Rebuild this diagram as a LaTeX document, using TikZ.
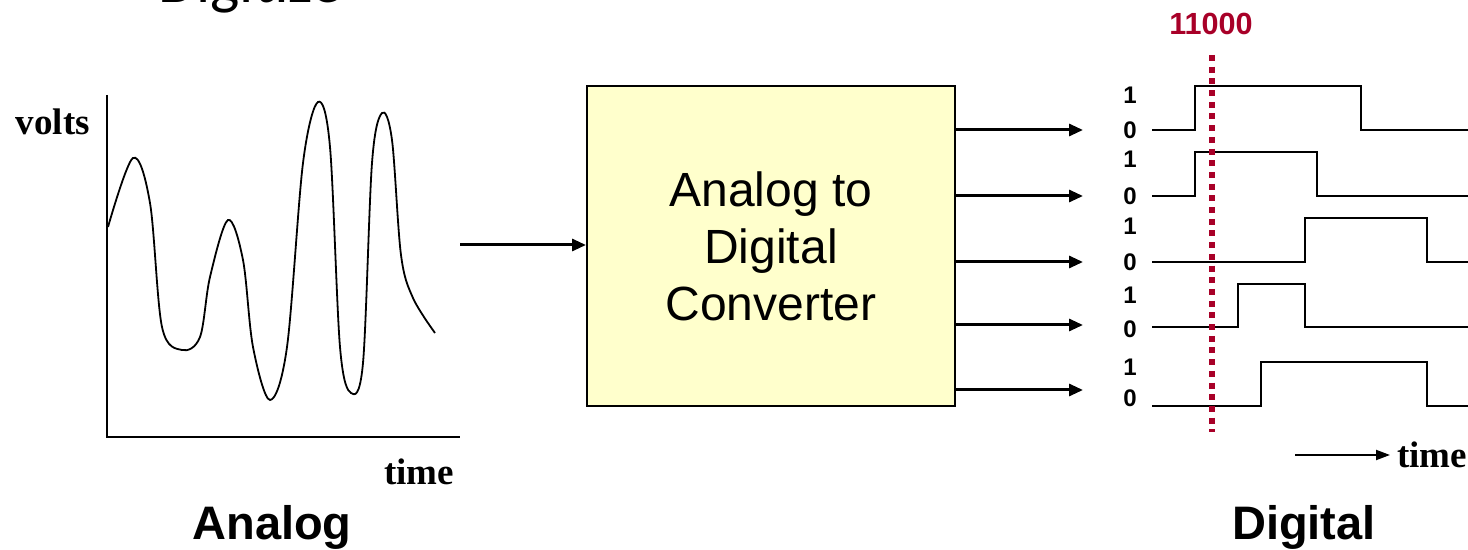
\documentclass[tikz,border=0pt]{standalone}
\usepackage{fontspec}
\setmainfont{Liberation Serif}
\setsansfont{Liberation Sans}
\newfontfamily\headfont{Carlito}
\usetikzlibrary{arrows.meta}
\definecolor{bitred}{RGB}{168,0,40}
\definecolor{adcfill}{RGB}{255,255,204}

\begin{document}
\begin{tikzpicture}[x=0.5pt,y=-0.5pt,
        arr/.style={line width=1.5pt,-{Triangle[length=7pt,width=6pt]}},
        sig/.style={line width=0.9pt},
        bit/.style={font=\sffamily\bfseries\fontsize{12}{14}\selectfont},
        axlbl/.style={font=\rmfamily\bfseries\fontsize{18.5}{22}\selectfont},
        title/.style={font=\sffamily\bfseries\fontsize{23.5}{28}\selectfont}]
\useasboundingbox (0,0) rectangle (1468,550);

% heading, mostly above the page
\node[anchor=base west,inner sep=0pt,font=\headfont\fontsize{31}{36}\selectfont]
    (head) at (158,3) {Digitize};

% analog signal
\draw[line width=1pt] (107,95) -- (107,437) -- (460,437);
\draw[line width=0.9pt] plot[smooth,tension=0.55] coordinates {
    (108,227) (133,158) (150,203) (162,327) (182,350) (200,337) (210,277)
    (228,220) (243,260) (253,347) (270,400) (287,347) (303,163) (318,102)
    (330,147) (340,347) (351,393) (363,363) (372,163) (382,113) (392,140)
    (401,255) (413,298) (435,333)};
\node[axlbl] (volts) at (53,122) {volts};
\node[axlbl] (atime) at (419,472) {time};
\node[title] (analog) at (272,527) {Analog};

% converter
\node[draw,line width=1pt,fill=adcfill,minimum width=184pt,minimum height=160pt,
    align=center,font=\sffamily\fontsize{24}{28.5}\selectfont]
    (adc) at (771,246) {Analog to\\Digital\\Converter};
\coordinate (src) at (460,245);
\draw[arr] (src) -- (adc.west |- src);
\foreach \y [count=\i] in {130,196,262,325,390}{
    \coordinate (out\i) at (1083,\y);
    \draw[arr] (adc.east |- out\i) -- (out\i);
}

% digital outputs
\foreach \lo/\hi/\r/\f/\one/\zero [count=\i] in
    {130/86/1195/1361/95/130, 196/152/1195/1317/159/196,
     262/218/1305/1427/226/262, 327/284/1238/1305/295/329,
     406/362/1261/1427/367/398}{
    \draw[sig] (1152,\lo) -- (\r,\lo) -- (\r,\hi) -- (\f,\hi) -- (\f,\lo) -- (1468,\lo);
    \node[bit] (one\i) at (1130,\one) {1};
    \node[bit] (zero\i) at (1130,\zero) {0};
}

% sampling instant
\node[font=\sffamily\bfseries\fontsize{15.3}{18}\selectfont,text=bitred]
    (code) at (1211,24) {11000};
\draw[bitred,line width=3pt,dash pattern=on 3pt off 2.85pt] (1212,55) -- (1212,432);

\coordinate (t0) at (1295,455);
\node[axlbl,anchor=west] (dtime) at (1390,455) {time};
\draw[line width=1pt,-{Triangle[length=7pt,width=5pt]}] (t0) -- (dtime.west);
\node[title] (digital) at (1304,527) {Digital};
\end{tikzpicture}
\end{document}
